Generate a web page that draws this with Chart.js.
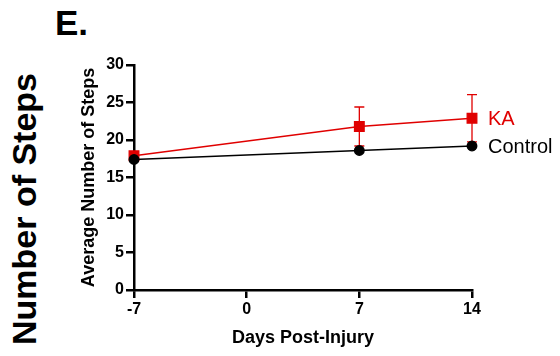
<!DOCTYPE html>
<html lang="en">
<head>
    <meta charset="UTF-8">
    <title>Number of Steps</title>
    <script src="https://cdn.jsdelivr.net/npm/chart.js"></script>
    <style>
        body { margin: 0; background: #fff; }
        .janela { position: relative; width: 560px; height: 356px; font-family: "Liberation Sans", Arial, sans-serif; }
        .letra { position: absolute; left: 55px; top: 3px; font-size: 35px; font-weight: bold; line-height: 40px; }
        .titulo-lado { position: absolute; left: 24px; top: 209px; font-size: 34px; font-weight: bold; white-space: nowrap;
            transform: translate(-50%, -50%) rotate(-90deg); line-height: 40px; }
        .grafico { position: absolute; left: 0; top: 0; width: 560px; height: 356px; }
    </style>
</head>
<body>
    <div class="janela">
        <div class="letra">E.</div>
        <div class="titulo-lado">Number of Steps</div>
        <div class="grafico">
            <canvas id="grafico_linha" width="560" height="356"></canvas>
        </div>
    </div>
</body>
</html>
<script>
    // dados
    var dias = [-7, 7, 14];
    var xTicks = [-7, 0, 7, 14];
    var yTicks = [0, 5, 10, 15, 20, 25, 30];
    var mediaControle = [17.4, 18.6, 19.2];
    var mediaKA = [17.9, 21.8, 22.9];
    var erroKA = [0, 2.6, 3.15];

    var vermelho = '#e00000';

    function pontos(valores) {
        return dias.map(function (d, i) { return { x: d, y: valores[i] }; });
    }

    // barras de erro (so KA aparece)
    const barrasErro = {
        id: 'barrasErro',
        beforeDatasetsDraw(chart) {
            const ctx = chart.ctx;
            const xs = chart.scales.x, ys = chart.scales.y;
            ctx.save();
            ctx.strokeStyle = vermelho;
            ctx.lineWidth = 1.3;
            for (let i = 0; i < dias.length; i++) {
                if (!erroKA[i]) continue;
                const px = xs.getPixelForValue(dias[i]);
                const top = ys.getPixelForValue(mediaKA[i] + erroKA[i]);
                const bot = ys.getPixelForValue(mediaKA[i] - erroKA[i]);
                ctx.beginPath();
                ctx.moveTo(px, top); ctx.lineTo(px, bot);
                ctx.moveTo(px - 5, top); ctx.lineTo(px + 5, top);
                ctx.moveTo(px - 5, bot); ctx.lineTo(px + 5, bot);
                ctx.stroke();
            }
            ctx.restore();
        }
    };

    // nomes das series ao lado do ultimo ponto
    const nomesSeries = {
        id: 'nomesSeries',
        afterDraw(chart) {
            const ctx = chart.ctx;
            ctx.save();
            ctx.font = '20px "Liberation Sans", Arial, sans-serif';
            ctx.textBaseline = 'middle';
            ctx.textAlign = 'left';
            chart.data.datasets.forEach(function (ds, i) {
                const meta = chart.getDatasetMeta(i);
                const ult = meta.data[meta.data.length - 1];
                ctx.fillStyle = ds.borderColor;
                ctx.fillText(ds.label, ult.x + 16, ult.y + 1);
            });
            ctx.restore();
        }
    };

    const fonteTick = { family: '"Liberation Sans", Arial, sans-serif', size: 16, weight: 'bold' };
    const fonteTitulo = { family: '"Liberation Sans", Arial, sans-serif', size: 18, weight: 'bold' };

    const chart = new Chart('grafico_linha', {
        type: 'line',
        data: {
            datasets: [{
                label: 'Control',
                data: pontos(mediaControle),
                borderColor: '#000000',
                backgroundColor: '#000000',
                borderWidth: 1.3,
                pointStyle: 'circle',
                pointRadius: 4.8,
                pointHoverRadius: 4.8,
                clip: false
            }, {
                label: 'KA',
                data: pontos(mediaKA),
                borderColor: vermelho,
                backgroundColor: vermelho,
                borderWidth: 1.3,
                pointStyle: 'rect',
                pointRadius: 6.8,
                pointHoverRadius: 6.8,
                clip: false
            }]
        },
        options: {
            responsive: false,
            animation: false,
            events: [],
            layout: { padding: { left: 70, right: 88, top: 65, bottom: 0 } },
            plugins: { legend: { display: false }, tooltip: { enabled: false } },
            scales: {
                x: {
                    type: 'linear',
                    min: -7,
                    max: 14,
                    afterBuildTicks: function (s) { s.ticks = xTicks.map(function (v) { return { value: v }; }); },
                    afterFit: function (s) { s.height = 66; },
                    grid: { drawOnChartArea: false, drawTicks: true, tickLength: 8, color: '#000', lineWidth: 2.5 },
                    border: { color: '#000', width: 2.5 },
                    ticks: { color: '#000', font: fonteTick, padding: 2, maxRotation: 0 },
                    title: { display: true, text: 'Days Post-Injury', color: '#000', font: fonteTitulo, padding: 7 }
                },
                y: {
                    min: 0,
                    max: 30,
                    afterBuildTicks: function (s) { s.ticks = yTicks.map(function (v) { return { value: v }; }); },
                    afterFit: function (s) { s.width = 64; },
                    grid: { drawOnChartArea: false, drawTicks: true, tickLength: 8, color: '#000', lineWidth: 2.5 },
                    border: { color: '#000', width: 2.5 },
                    ticks: { color: '#000', font: fonteTick, padding: 2 },
                    title: { display: true, text: 'Average Number of Steps', color: '#000', font: fonteTitulo, padding: 8 }
                }
            }
        },
        plugins: [barrasErro, nomesSeries]
    });
</script>
